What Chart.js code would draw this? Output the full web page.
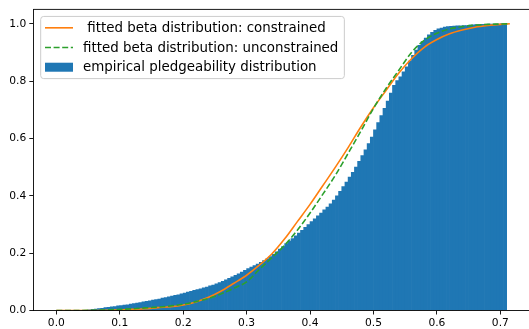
<!DOCTYPE html>
<html>
<head>
<meta charset="utf-8">
<script src="https://cdn.jsdelivr.net/npm/chart.js@4.4.0/dist/chart.umd.min.js"></script>
<style>
  html, body { margin: 0; padding: 0; background: #fff; }
  #wrap { width: 529px; height: 329px; }
</style>
</head>
<body>
<div id="wrap"><canvas id="pledge-chart" width="529" height="329"></canvas></div>
<script>
// tick labels
const xTicks = [0.0, 0.1, 0.2, 0.3, 0.4, 0.5, 0.6, 0.7];
const yTicks = [0.0, 0.2, 0.4, 0.6, 0.8, 1.0];

// histogram bin edges (cumulative, normalised)
const binEdges = [0.050, 0.055, 0.060, 0.065, 0.070, 0.075, 0.080, 0.085, 0.090, 0.095,
  0.100, 0.105, 0.110, 0.115, 0.120, 0.125, 0.130, 0.135, 0.140, 0.145,
  0.150, 0.155, 0.160, 0.165, 0.170, 0.175, 0.180, 0.185, 0.190, 0.195,
  0.200, 0.205, 0.210, 0.215, 0.220, 0.225, 0.230, 0.235, 0.240, 0.245,
  0.250, 0.255, 0.260, 0.265, 0.270, 0.275, 0.280, 0.285, 0.290, 0.295,
  0.300, 0.305, 0.310, 0.315, 0.320, 0.325, 0.330, 0.335, 0.340, 0.345,
  0.350, 0.355, 0.360, 0.365, 0.370, 0.375, 0.380, 0.385, 0.390, 0.395,
  0.400, 0.405, 0.410, 0.415, 0.420, 0.425, 0.430, 0.435, 0.440, 0.445,
  0.450, 0.455, 0.460, 0.465, 0.470, 0.475, 0.480, 0.485, 0.490, 0.495,
  0.500, 0.505, 0.510, 0.515, 0.520, 0.525, 0.530, 0.535, 0.540, 0.545,
  0.550, 0.555, 0.560, 0.565, 0.570, 0.575, 0.580, 0.585, 0.590, 0.595,
  0.600, 0.605, 0.610, 0.615, 0.620, 0.625, 0.630, 0.635, 0.640, 0.645,
  0.650, 0.655, 0.660, 0.665, 0.670, 0.675, 0.680, 0.685, 0.690, 0.695,
  0.700, 0.705, 0.710];
const empiricalCdf = [0.002, 0.004, 0.005, 0.007, 0.008, 0.010, 0.011, 0.013, 0.014, 0.016,
  0.017, 0.019, 0.020, 0.022, 0.024, 0.026, 0.028, 0.030, 0.032, 0.034,
  0.036, 0.038, 0.040, 0.043, 0.045, 0.048, 0.050, 0.053, 0.055, 0.058,
  0.061, 0.064, 0.067, 0.070, 0.073, 0.076, 0.079, 0.082, 0.086, 0.089,
  0.093, 0.097, 0.102, 0.107, 0.112, 0.117, 0.123, 0.128, 0.134, 0.140,
  0.146, 0.151, 0.157, 0.162, 0.168, 0.174, 0.180, 0.188, 0.196, 0.205,
  0.214, 0.223, 0.233, 0.242, 0.251, 0.260, 0.270, 0.280, 0.290, 0.300,
  0.310, 0.320, 0.330, 0.340, 0.351, 0.361, 0.372, 0.385, 0.400, 0.416,
  0.432, 0.448, 0.465, 0.482, 0.500, 0.520, 0.540, 0.560, 0.582, 0.605,
  0.630, 0.655, 0.680, 0.705, 0.730, 0.758, 0.785, 0.802, 0.815, 0.832,
  0.850, 0.870, 0.890, 0.908, 0.925, 0.938, 0.950, 0.961, 0.970, 0.977,
  0.982, 0.985, 0.988, 0.990, 0.991, 0.992, 0.993, 0.993, 0.994, 0.994,
  0.995, 0.996, 0.997, 0.997, 0.998, 0.998, 0.999, 0.999, 0.999, 0.999,
  1.000, 1.000];

// fitted beta cdfs
const fitX = [0.00, 0.02, 0.04, 0.06, 0.08, 0.10, 0.12, 0.14, 0.16, 0.18,
  0.20, 0.22, 0.24, 0.26, 0.28, 0.30, 0.32, 0.34, 0.36, 0.38,
  0.40, 0.42, 0.44, 0.46, 0.48, 0.50, 0.52, 0.54, 0.56, 0.58,
  0.60, 0.62, 0.64, 0.66, 0.68, 0.70, 0.715];
const constrainedCdf = [0, 0, 0, 0, 0.001, 0.002, 0.004, 0.006, 0.010, 0.013,
  0.019, 0.030, 0.046, 0.068, 0.095, 0.123, 0.158, 0.198, 0.250, 0.310,
  0.370, 0.435, 0.500, 0.568, 0.640, 0.707, 0.768, 0.828, 0.878, 0.918,
  0.945, 0.965, 0.978, 0.988, 0.994, 0.998, 1.000];
const unconstrainedCdf = [0, 0, 0, 0.001, 0.002, 0.004, 0.006, 0.009, 0.012, 0.016,
  0.022, 0.031, 0.042, 0.058, 0.078, 0.100, 0.143, 0.185, 0.228, 0.280,
  0.340, 0.405, 0.472, 0.548, 0.625, 0.705, 0.775, 0.838, 0.900, 0.942,
  0.967, 0.982, 0.990, 0.995, 0.998, 0.999, 1.000];

const labels = [' fitted beta distribution: constrained',
  'fitted beta distribution: unconstrained',
  'empirical pledgeability distribution'];

const FONT = '"DejaVu Sans", "Liberation Sans", sans-serif';

//histogram bars sit between consecutive edges
let histData = empiricalCdf.map((v, i) => ({x: (binEdges[i] + binEdges[i + 1]) / 2, y: v}));
let constrainedData = fitX.map((x, i) => ({x: x, y: constrainedCdf[i]}));
let unconstrainedData = fitX.map((x, i) => ({x: x, y: unconstrainedCdf[i]}));

// top spine, matplotlib style
const topSpine = {
  id: 'topSpine',
  afterDraw(chart) {
    const {ctx, chartArea} = chart;
    ctx.save();
    ctx.strokeStyle = '#000';
    ctx.lineWidth = 0.9;
    ctx.beginPath();
    ctx.moveTo(chartArea.left, chartArea.top);
    ctx.lineTo(chartArea.right, chartArea.top);
    ctx.stroke();
    ctx.restore();
  }
};

// legend box in the upper left corner of the axes
const boxLegend = {
  id: 'boxLegend',
  afterDraw(chart) {
    const {ctx, chartArea} = chart;
    const ds = chart.data.datasets;
    const fontSize = 13.4;
    const left = chartArea.left + 7.4;
    const top = chartArea.top + 7;
    const rowStep = 19.7;
    const firstRow = top + 11.4;
    const handleX = left + 4.3;
    const handleW = 28;
    const textX = left + 42.3;

    ctx.save();
    ctx.font = fontSize + 'px ' + FONT;
    let maxW = 0;
    ds.forEach(d => { maxW = Math.max(maxW, ctx.measureText(d.label).width); });
    const boxW = textX - left + maxW + 6;
    const boxH = rowStep * (ds.length - 1) + 22.8;

    ctx.fillStyle = 'rgba(255,255,255,0.8)';
    ctx.strokeStyle = '#cccccc';
    ctx.lineWidth = 1;
    ctx.beginPath();
    ctx.roundRect(left, top, boxW, boxH, 3);
    ctx.fill();
    ctx.stroke();

    ds.forEach((d, i) => {
      const y = firstRow + i * rowStep;
      if (d.type === 'line') {
        ctx.strokeStyle = d.borderColor;
        ctx.lineWidth = d.borderWidth;
        ctx.setLineDash(d.borderDash || []);
        ctx.beginPath();
        ctx.moveTo(handleX, y);
        ctx.lineTo(handleX + handleW, y);
        ctx.stroke();
        ctx.setLineDash([]);
      } else {
        ctx.fillStyle = d.backgroundColor;
        ctx.fillRect(handleX, y - 4.5, handleW, 9);
      }
      ctx.fillStyle = '#000';
      ctx.textBaseline = 'middle';
      ctx.textAlign = 'left';
      ctx.fillText(d.label, textX, y + 0.5);
    });
    ctx.restore();
  }
};

var ctx = document.getElementById('pledge-chart').getContext('2d');

new Chart(ctx, {
  type: 'bar',
  data: {
    datasets: [{
        type: 'line',
        label: labels[0],
        data: constrainedData,
        borderColor: '#ff7f0e',
        borderWidth: 1.6,
        pointRadius: 0,
        cubicInterpolationMode: 'monotone',
        fill: false,
        order: 2
      }, {
        type: 'line',
        label: labels[1],
        data: unconstrainedData,
        borderColor: '#2ca02c',
        borderWidth: 1.6,
        borderDash: [6, 2.6],
        pointRadius: 0,
        cubicInterpolationMode: 'monotone',
        fill: false,
        order: 1
      }, {
        type: 'bar',
        label: labels[2],
        data: histData,
        backgroundColor: '#1f77b4',
        borderWidth: 0,
        barPercentage: 1.0,
        categoryPercentage: 1.0,
        order: 3
      }
    ]
  },
  options: {
    responsive: false,
    animation: false,
    devicePixelRatio: 1,
    layout: { padding: { top: 7.3, left: 0, right: 0, bottom: 0 } },
    plugins: {
      legend: { display: false },
      tooltip: { enabled: false }
    },
    scales: {
      x: {
        type: 'linear',
        offset: false,
        min: -0.0363,
        max: 0.7452,
        afterBuildTicks: scale => { scale.ticks = xTicks.map(v => ({value: v})); },
        afterFit: scale => { scale.height = 18.5; },
        grid: { display: true, offset: false, drawOnChartArea: false, drawTicks: true, tickLength: 4, tickColor: '#000', tickWidth: 0.9 },
        border: { display: true, color: '#000', width: 0.9, z: 1 },
        ticks: {
          padding: 2,
          color: '#000',
          maxRotation: 0,
          autoSkip: false,
          font: { family: FONT, size: 10.7 },
          callback: v => v.toFixed(1)
        }
      },
      y: {
        type: 'linear',
        min: 0,
        max: 1.05,
        afterBuildTicks: scale => { scale.ticks = yTicks.map(v => ({value: v})); },
        afterFit: scale => { scale.width = 33.3; },
        grid: { display: true, drawOnChartArea: false, drawTicks: true, tickLength: 4, tickColor: '#000', tickWidth: 0.9 },
        border: { display: true, color: '#000', width: 0.9, z: 1 },
        ticks: {
          padding: 3,
          color: '#000',
          autoSkip: false,
          font: { family: FONT, size: 10.7 },
          callback: v => v.toFixed(1)
        }
      }
    }
  },
  plugins: [topSpine, boxLegend]
});
</script>
</body>
</html>
